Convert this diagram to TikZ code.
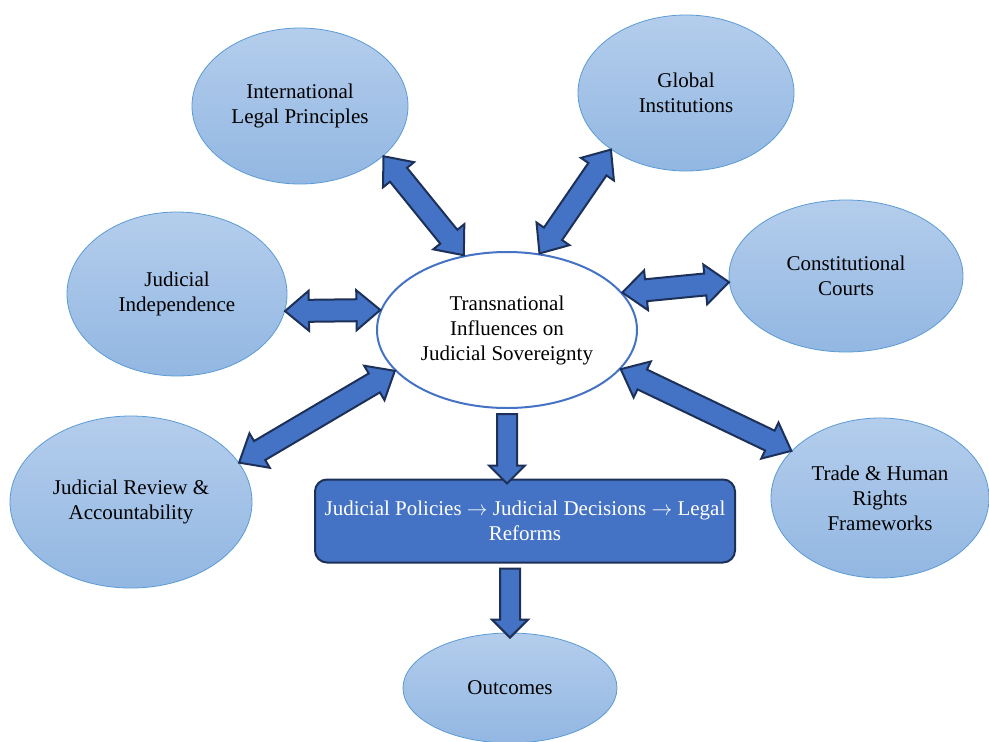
\documentclass[tikz,border=0pt]{standalone}
\usepackage{fontspec}
\setmainfont{Liberation Serif}
\usetikzlibrary{shapes.geometric,shapes.arrows,calc}
\definecolor{accent}{RGB}{68,114,196}
\definecolor{navy}{RGB}{28,48,88}
\definecolor{rim}{RGB}{91,155,213}
\definecolor{paletop}{RGB}{180,205,236}
\definecolor{palebot}{RGB}{146,183,226}

% fat two-headed link between two border points
\newcommand{\biarrow}[2]{%
  \path let \p1=(#1), \p2=(#2), \n1={veclen(\x2-\x1,\y2-\y1)}, \n2={atan2(\y2-\y1,\x2-\x1)} in
    node[link, minimum height=\n1, rotate=\n2] at ($(#1)!0.5!(#2)$) {};}
\newcommand{\feedarrow}[2]{%
  \path let \p1=(#1), \p2=(#2), \n1={veclen(\x2-\x1,\y2-\y1)}, \n2={atan2(\y2-\y1,\x2-\x1)} in
    node[flow, minimum height=\n1, rotate=\n2] at ($(#1)!0.5!(#2)$) {};}

\begin{document}
\begin{tikzpicture}[x=1pt,y=-1pt,font=\fontsize{21}{25}\selectfont]
    \tikzset{bubble/.style={ellipse, draw=rim, line width=0.8pt, top color=paletop, bottom color=palebot, inner sep=0pt, align=center}}
    \tikzset{hub/.style={ellipse, draw=accent, line width=2pt, fill=white, inner sep=0pt, align=center}}
    \tikzset{stage/.style={rectangle, rounded corners=12pt, draw=navy, line width=2pt, fill=accent, text=white, align=center, minimum width=420pt}}
    \tikzset{link/.style={double arrow, draw=navy, fill=accent, line width=2pt, inner xsep=0pt, inner ysep=10pt, double arrow head extend=9pt, double arrow tip angle=80}}
    \tikzset{flow/.style={single arrow, draw=navy, fill=accent, line width=2pt, inner xsep=0pt, inner ysep=9pt, single arrow head extend=8pt, single arrow tip angle=90}}
    \useasboundingbox (0,0) rectangle (989,742);
    \draw (507,330) node[hub, minimum width=260pt, minimum height=156pt](hub){Transnational\\Influences on\\Judicial Sovereignty};
    \draw (300,106) node[bubble, minimum width=216pt, minimum height=156pt](ilp){International\\Legal Principles};
    \draw (686,93) node[bubble, minimum width=216pt, minimum height=156pt](gi){Global\\Institutions};
    \draw (846,276) node[bubble, minimum width=234pt, minimum height=152pt](cc){Constitutional\\Courts};
    \draw (177,294) node[bubble, minimum width=220pt, minimum height=164pt](ji){Judicial\\Independence};
    \draw (131,502) node[bubble, minimum width=242pt, minimum height=172pt](jr){Judicial Review \&\\Accountability};
    \draw (880,498) node[bubble, minimum width=218pt, minimum height=160pt](thr){Trade \& Human\\Rights\\Frameworks};
    \draw (510,688) node[bubble, minimum width=214pt, minimum height=110pt](out){Outcomes};
    \draw (525,521) node[stage, minimum height=83pt](pol){Judicial Policies $\rightarrow$ Judicial Decisions $\rightarrow$ Legal\\Reforms};
    \biarrow{ilp.-31}{hub.120}
    \biarrow{gi.217}{hub.67}
    \biarrow{cc.183}{hub.18}
    \biarrow{ji.-9}{hub.171}
    \biarrow{jr.20}{hub.200}
    \biarrow{thr.152}{hub.-19}
    \feedarrow{hub.south}{hub.south |- pol.north}
    \feedarrow{out.north |- pol.south}{out.north}
\end{tikzpicture}
\end{document}
